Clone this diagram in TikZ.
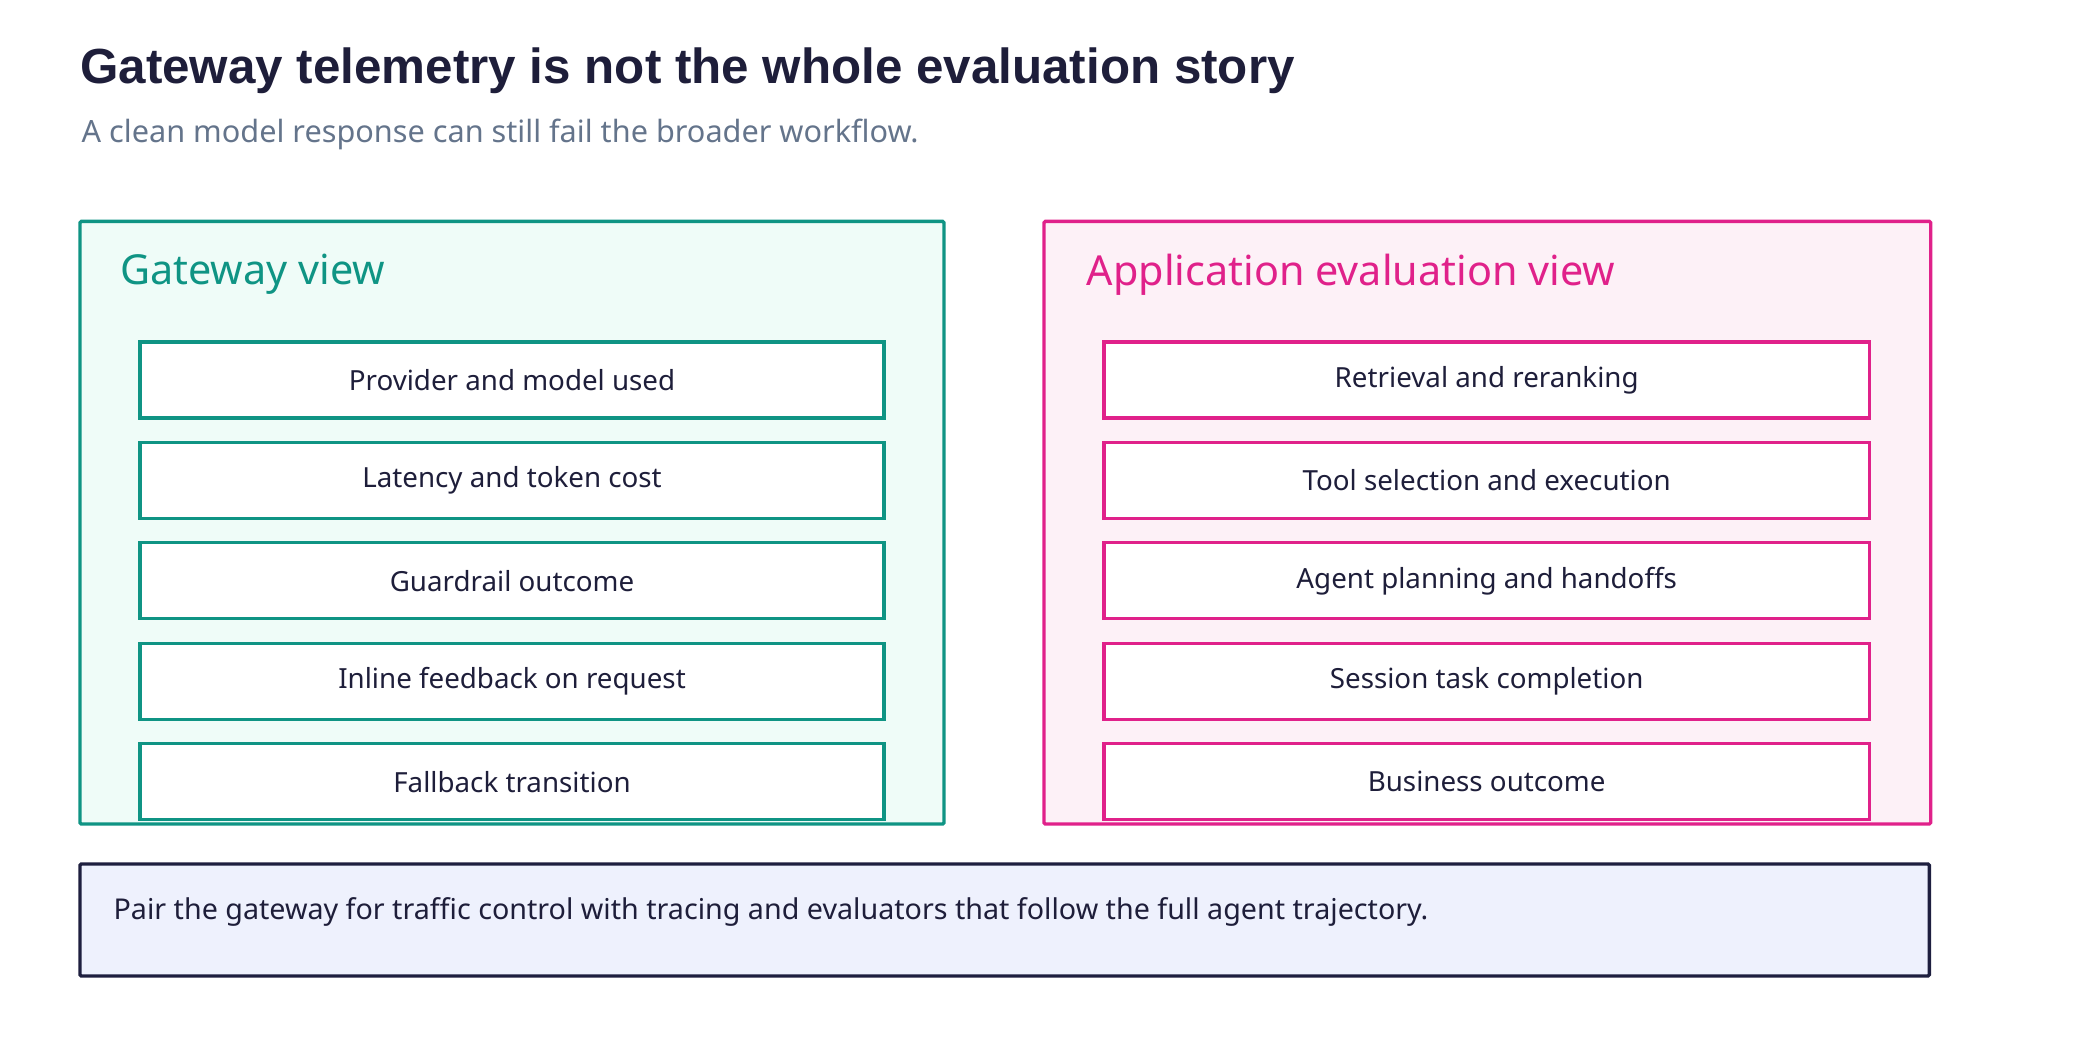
\documentclass[tikz,border=0pt]{standalone}
\usepackage{fontspec}
\setmainfont{Noto Sans}
\newfontfamily\titlefont{Liberation Sans}
\definecolor{ink}{HTML}{1E1E3A}
\definecolor{sub}{HTML}{64748B}
\definecolor{teal}{HTML}{0F9484}
\definecolor{tealbg}{HTML}{EFFCF8}
\definecolor{mag}{HTML}{E0218A}
\definecolor{magbg}{HTML}{FDF1F7}
\definecolor{navy}{HTML}{1E1F3F}
\definecolor{notebg}{HTML}{EEF1FD}
\begin{document}
\begin{tikzpicture}[x=1pt,y=-1pt,
  panel/.style={line width=2.5pt, rounded corners=1pt},
  item/.style={draw, line width=2.5pt, fill=white, minimum width=#1, minimum height=57pt, inner sep=0pt, text=ink, font=\fontsize{20.8}{24}\selectfont},
  ptitle/.style={anchor=west, font=\fontsize{31}{36}\selectfont, inner sep=0pt}]
\useasboundingbox (0,0) rectangle (1560,789);
\node[anchor=base west, inner sep=0pt, text=ink, font=\titlefont\bfseries\fontsize{37}{42}\selectfont] (title) at (60,63) {Gateway telemetry is not the whole evaluation story};
\node[anchor=base west, inner sep=0pt, text=sub, font=\fontsize{23}{26}\selectfont] (subtitle) at (61,107) {A clean model response can still fail the broader workflow.};
% left panel
\draw[panel, draw=teal, fill=tealbg] (60,166) rectangle (708,618);
\node[ptitle, text=teal] (lt) at (90,206) {Gateway view};
\foreach \t [count=\i] in {Provider and model used, Latency and token cost, Guardrail outcome, Inline feedback on request, Fallback transition}{
  \node[item=558pt, draw=teal] (l\i) at (384,{285+75.3*(\i-1)}) {\t};
}
% right panel
\draw[panel, draw=mag, fill=magbg] (783,166) rectangle (1448,618);
\node[ptitle, text=mag] (rt) at (815,206) {Application evaluation view};
\foreach \t [count=\i] in {Retrieval and reranking, Tool selection and execution, Agent planning and handoffs, Session task completion, Business outcome}{
  \node[item=574pt, draw=mag] (r\i) at (1115,{285+75.3*(\i-1)}) {\t};
}
% note
\draw[panel, draw=navy, fill=notebg] (60,648) rectangle (1447,732);
\node[anchor=west, inner sep=0pt, text=ink, font=\fontsize{21.5}{24}\selectfont] (note) at (85,684) {Pair the gateway for traffic control with tracing and evaluators that follow the full agent trajectory.};
\end{tikzpicture}
\end{document}
